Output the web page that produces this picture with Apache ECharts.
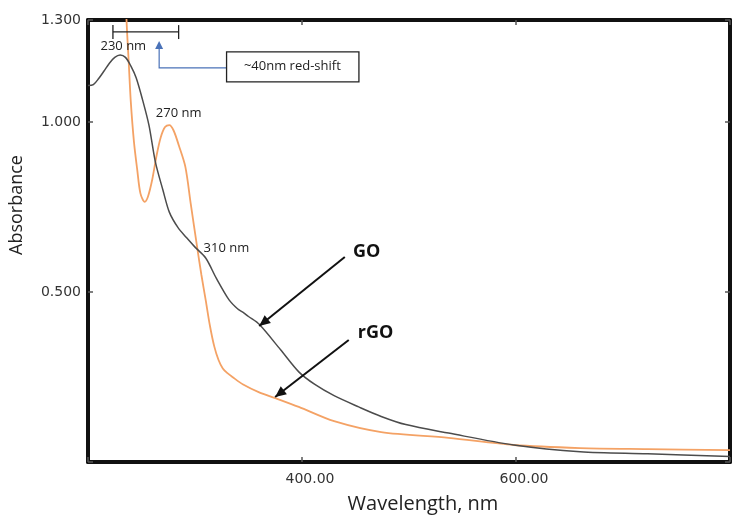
<!DOCTYPE html>
<html>
<head>
<meta charset="utf-8">
<script src="https://cdn.jsdelivr.net/npm/echarts@6/dist/echarts.min.js"></script>
<style>html,body{margin:0;padding:0;background:#fff;}#c{width:735px;height:524px;}</style>
</head>
<body>
<div id="c"></div>
<script>
// ---- data ----
const goWavelength = [200, 205, 210, 215, 220, 225, 230, 235, 240, 245, 251, 257, 263, 270, 276, 284, 292, 300, 310, 320, 332, 340, 345, 350, 360, 380, 397, 412, 430, 453, 474, 497, 537, 598, 660, 723, 800];
const goAbsorbance = [1.107, 1.11, 1.128, 1.15, 1.173, 1.19, 1.197, 1.19, 1.165, 1.13, 1.065, 0.99, 0.882, 0.80, 0.735, 0.69, 0.66, 0.632, 0.60, 0.54, 0.476, 0.45, 0.44, 0.428, 0.405, 0.33, 0.265, 0.228, 0.195, 0.162, 0.134, 0.11, 0.085, 0.05, 0.03, 0.024, 0.016];
const rgoWavelength = [234, 236, 238, 240, 243, 246, 249, 253, 256, 260, 264, 268, 272, 276, 280, 285, 291, 296, 302, 306, 310, 314, 318, 322, 326, 330, 335, 345, 360, 375, 397, 430, 474, 537, 598, 660, 723, 800];
const rgoAbsorbance = [1.50, 1.30, 1.18, 1.06, 0.94, 0.86, 0.79, 0.765, 0.78, 0.83, 0.90, 0.955, 0.985, 0.991, 0.975, 0.93, 0.868, 0.76, 0.632, 0.55, 0.476, 0.40, 0.34, 0.30, 0.275, 0.262, 0.25, 0.228, 0.205, 0.188, 0.162, 0.12, 0.088, 0.071, 0.05, 0.041, 0.038, 0.035];
const xTickLabels = {400: '400.00', 600: '600.00'};
const yTickLabels = {0.5: '0.500', 1: '1.000', 1.3: '1.300'};
const seriesNames = ['GO', 'rGO'];

const goData = goWavelength.map((w, i) => [w, goAbsorbance[i]]);
const rgoData = rgoWavelength.map((w, i) => [w, rgoAbsorbance[i]]);

const chart = echarts.init(document.getElementById('c'));
const frame = {show: true, onZero: false, lineStyle: {color: '#111', width: 4}};
const tickIn = {show: true, inside: true, length: 5, lineStyle: {color: '#555', width: 1.5}};
const option = {
  animation: false,
  backgroundColor: '#fff',
  grid: {left: 85, right: 5, top: 20, bottom: 62},
  xAxis: [{
    type: 'value', min: 200, max: 800, interval: 200, position: 'bottom',
    axisLine: frame, axisTick: tickIn, splitLine: {show: false},
    axisLabel: {margin: 10, fontFamily: 'DejaVu Sans', fontSize: 14, color: '#333', padding: [0, 0, 0, 16],
      formatter: v => xTickLabels[v] || ''},
    name: 'Wavelength, nm', nameLocation: 'middle', nameGap: 32,
    nameTextStyle: {fontFamily: 'Open Sans', fontSize: 20, color: '#222', padding: [0, 0, 0, 28]}
  }, {
    type: 'value', min: 200, max: 800, interval: 200, position: 'top',
    axisLine: frame, axisTick: tickIn, axisLabel: {show: false}, splitLine: {show: false}
  }],
  yAxis: [{
    type: 'value', min: 0, max: 1.3, interval: 0.5, position: 'left',
    axisLine: frame, axisTick: tickIn, splitLine: {show: false},
    axisLabel: {margin: 7, fontFamily: 'DejaVu Sans', fontSize: 14, color: '#333',
      formatter: v => yTickLabels[Math.round(v * 10) / 10] || ''},
    name: 'Absorbance', nameLocation: 'middle', nameGap: 62,
    nameTextStyle: {fontFamily: 'Open Sans', fontSize: 18, color: '#222', padding: [0, 0, 0, 72]}
  }, {
    type: 'value', min: 0, max: 1.3, interval: 0.5, position: 'right',
    axisLine: frame, axisTick: tickIn, axisLabel: {show: false}, splitLine: {show: false}
  }],
  series: [{
    name: seriesNames[0], type: 'line', data: goData, smooth: 0.3, showSymbol: false, clip: true,
    lineStyle: {color: '#4c4c4c', width: 1.5}, z: 3
  }, {
    name: seriesNames[1], type: 'line', data: rgoData, smooth: 0.3, showSymbol: false, clip: true,
    lineStyle: {color: '#F4A265', width: 1.8}, z: 2
  }]
};
chart.setOption(option);

// ---- annotations placed in data coordinates ----
function P(x, y) { return chart.convertToPixel({gridIndex: 0}, [x, y]); }
function arrowHead(from, to, len, half, color) {
  const dx = to[0] - from[0], dy = to[1] - from[1];
  const d = Math.hypot(dx, dy), ux = dx / d, uy = dy / d;
  const bx = to[0] - ux * len, by = to[1] - uy * len;
  return {type: 'polygon', shape: {points: [to, [bx - uy * half, by + ux * half], [bx + uy * half, by - ux * half]]},
    style: {fill: color}, z: 10};
}
const txt = (x, y, s, size, bold) => {
  const p = P(x, y);
  return {type: 'text', x: p[0], y: p[1], z: 10,
    style: {text: s, fontFamily: 'Open Sans', fontSize: size, fontWeight: bold ? 'bold' : 'normal', fill: bold ? '#111' : '#222',
      align: 'center', verticalAlign: 'middle'}};
};
const ln = (a, b, color, w) => ({type: 'line', z: 10, shape: {x1: a[0], y1: a[1], x2: b[0], y2: b[1]}, style: {stroke: color, lineWidth: w}});

const g = [];
// bracket 230 -> 270
const bL = P(223.3, 1.265), bR = P(284.7, 1.265);
g.push(ln(bL, bR, '#222', 1.3));
g.push(ln(P(223.3, 1.285), P(223.3, 1.244), '#222', 1.3));
g.push(ln(P(284.7, 1.285), P(284.7, 1.244), '#222', 1.3));
g.push(txt(233, 1.222, '230 nm', 13));
// blue arrow to box
const blueTip = P(266.5, 1.238), blueCorner = P(266.5, 1.159), blueEnd = P(331.2, 1.159);
g.push({type: 'polyline', z: 10, shape: {points: [[blueTip[0], blueTip[1] + 6], blueCorner, blueEnd]}, style: {stroke: '#4A72B8', lineWidth: 1.2, fill: null}});
g.push(arrowHead(blueCorner, blueTip, 8, 4, '#4A72B8'));
// box
const r1 = P(329.5, 1.206), r2 = P(453.2, 1.118);
g.push({type: 'rect', z: 10, shape: {x: r1[0], y: r1[1], width: r2[0] - r1[0], height: r2[1] - r1[1]}, style: {fill: '#fff', stroke: '#222', lineWidth: 1.3}});
g.push(txt(391, 1.163, '~40nm red-shift', 13));
g.push(txt(284.7, 1.026, '270 nm', 13));
g.push(txt(329.3, 0.629, '310 nm', 13));
g.push(txt(460.5, 0.618, 'GO', 18, true));
g.push(txt(468.8, 0.379, 'rGO', 18, true));
// black arrows
const goA = P(440, 0.603), goB = P(360, 0.40);
g.push(ln(goA, goB, '#111', 2));
g.push(arrowHead(goA, goB, 11, 5, '#111'));
const rA = P(443.7, 0.359), rB = P(374.9, 0.191);
g.push(ln(rA, rB, '#111', 2));
g.push(arrowHead(rA, rB, 11, 5, '#111'));
chart.setOption({graphic: g});
</script>
</body>
</html>
